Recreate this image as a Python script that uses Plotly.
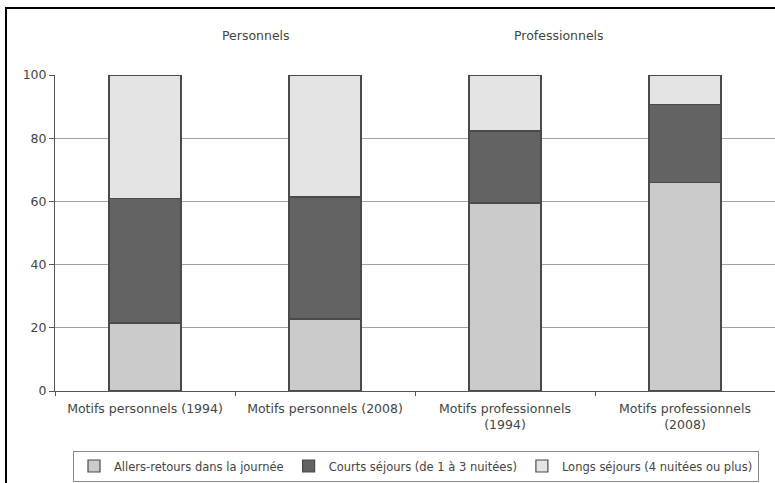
import plotly.graph_objects as go

categories = ["Motifs personnels (1994)", "Motifs personnels (2008)",
              "Motifs professionnels<br>(1994)", "Motifs professionnels<br>(2008)"]
allers = [21.5, 22.8, 59.5, 66.0]
courts = [39.5, 38.6, 22.8, 24.7]
longs = [39.0, 38.6, 17.7, 9.3]
series_names = ["Allers-retours dans la journée", "Courts séjours (de 1 à 3 nuitées)",
                "Longs séjours (4 nuitées ou plus)"]
colors = ["#cbcbcb", "#636363", "#e4e4e4"]
y_ticks = [0, 20, 40, 60, 80, 100]

fig = go.Figure()
for name, vals, c in zip(series_names, [allers, courts, longs], colors):
    fig.add_trace(go.Bar(x=categories, y=vals, name=name,
                         marker=dict(color=c, line=dict(color="#4a4a4a", width=1.2))))

W, H = 775, 483
l, r, t, b = 55, 0, 75, 92
pw, ph = W - l - r, H - t - b

def px(x):
    return (x - l) / pw

def py(y):
    return (H - b - y) / ph

FONT = "DejaVu Sans, Liberation Sans, sans-serif"
fig.update_layout(
    width=W, height=H, barmode="stack", bargap=0.6,
    margin=dict(l=l, r=r, t=t, b=b, autoexpand=False),
    paper_bgcolor="white", plot_bgcolor="white",
    font=dict(family=FONT, size=12, color="#444"),
    showlegend=True,
    legend=dict(orientation="h", xref="container", yref="container",
                x=416 / W, xanchor="center", y=1 - 466 / H, yanchor="middle",
                bordercolor="#888", borderwidth=1, font=dict(size=11.5, color="#444"),
                traceorder="normal", itemwidth=30, tracegroupgap=0),
    xaxis=dict(showline=True, linecolor="#555", linewidth=1, ticks="outside",
               tickson="boundaries", tickcolor="#555", ticklen=4, ticklabelstandoff=6,
               tickfont=dict(size=12.5, color="#444"), range=[-0.5, 3.5]),
    yaxis=dict(range=[0, 100], tickvals=y_ticks, showgrid=True, gridcolor="#a0a0a0",
               gridwidth=1.3, showline=True, linecolor="#555", ticks="outside",
               tickcolor="#555", ticklen=5, tickfont=dict(size=12.5, color="#444"),
               zeroline=False),
    annotations=[
        dict(text="Personnels", x=px(220), y=py(26), xref="paper", yref="paper",
             showarrow=False, font=dict(size=12.5, color="#444")),
        dict(text="Professionnels", x=px(606), y=py(26), xref="paper", yref="paper",
             showarrow=False, font=dict(size=12.5, color="#444")),
    ],
    shapes=[dict(type="rect", xref="paper", yref="paper",
                 x0=px(6), x1=px(790), y0=py(500), y1=py(8),
                 line=dict(color="black", width=2), fillcolor="rgba(0,0,0,0)", layer="above")],
)

fig.write_html("out.html", config={"displayModeBar": False},
               post_script="document.body.style.margin='0';")
